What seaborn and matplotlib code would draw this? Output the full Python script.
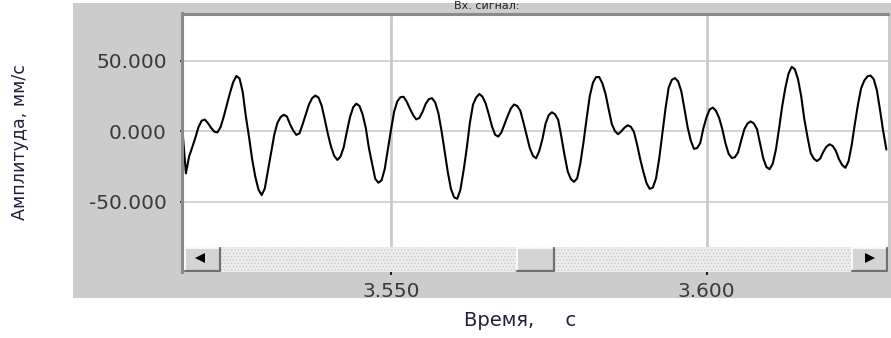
import numpy as np
import pandas as pd
import matplotlib
matplotlib.use("Agg")
import matplotlib.pyplot as plt
from matplotlib.patches import Rectangle, Polygon
from matplotlib.lines import Line2D
import seaborn as sns

# Vibration velocity record: one sample every 0.5 ms starting at 3.5170 s
t_start = 3.5170
t_step = 0.0005
amplitude = [
    -2, -30, -18, -11.5, -4.5, 3, 7.5, 8.3, 5.7, 2.3,
    -0.3, -0.8, 3, 10.5, 19, 27.5, 35, 39.3, 37.5, 28,
    10.5, -4, -20, -32.5, -41.5, -45.4, -40.7, -28, -15, -2.5,
    6, 10, 11.7, 10.5, 5, 0.5, -2.6, -1.5, 5, 12,
    19, 23.5, 25.4, 24, 18.4, 8.5, -2, -11, -17.5, -20.4,
    -18, -11.5, -0.5, 10, 17, 19.6, 18, 12, 2.5, -12,
    -23, -33.8, -36.6, -35, -27, -13, 1, 14, 21.3, 24.2,
    24.5, 21, 16, 11.5, 8.4, 9.5, 13.8, 19.5, 22.8, 23.5,
    20.5, 13, 0.5, -14, -29, -41, -47, -48, -41.5, -28,
    -12.3, 6, 19, 24, 26.5, 24.5, 19.8, 12, 3.5, -2.5,
    -3.8, -0.8, 5, 11, 16.2, 19, 18, 14.5, 6, -3,
    -12, -17.5, -19.3, -14, -5.5, 5.5, 11.5, 13.5, 12, 8,
    -4, -17, -28.5, -34, -36, -33.5, -23, -8, 9, 25,
    34.5, 38.5, 38.5, 34, 26.5, 15.5, 5, 0, -2.1, 0,
    2.5, 4.2, 3.2, -0.5, -9.5, -20, -29, -37, -41, -40,
    -33.5, -19.5, -2, 16, 31, 36.5, 37.8, 35.5, 28.5, 16,
    3, -6.5, -12.5, -12, -8.5, 2, 10, 15.5, 16.8, 14.5,
    9.5, 1.5, -8.5, -16, -19, -18.5, -15, -6.5, 1.5, 5.5,
    7, 5.5, 1.5, -9, -19.4, -25.5, -27, -23, -13, 2,
    18, 31, 41, 45.8, 44, 37, 25, 8.5, -4, -15.5,
    -19.5, -21.2, -19.5, -14.7, -11, -9.3, -10.5, -14, -20, -24,
    -26, -21.5, -10, 5, 19, 30.5, 36, 39, 39.6, 37,
    29, 15, 0, -13,
]

y_ticks = [-50, 0, 50]
y_tick_labels = ["-50.000", "0.000", "50.000"]
x_ticks = [3.550, 3.600]
x_tick_labels = ["3.550", "3.600"]
x_range = (3.51688, 3.62876)
y_range = (-82.3, 83.7)

title_text = "Вх. сигнал:"
y_label = "Амплитуда, мм/с"
x_label = "Время,     с"

sns.set_style("white")
plt.rcParams["font.family"] = ["DejaVu Sans"]
plt.rcParams["hatch.color"] = "#c4c4c4"
plt.rcParams["hatch.linewidth"] = 0.5

df = pd.DataFrame({
    "t": t_start + t_step * np.arange(len(amplitude)),
    "v": amplitude,
})

W, H = 891, 338


def px_rect(x0, y0, x1, y1):
    return [x0 / W, 1 - y1 / H, (x1 - x0) / W, (y1 - y0) / H]


fig = plt.figure(figsize=(W / 100, H / 100), dpi=100, facecolor="white")

# grey window panel behind the plot
fig.patches.append(Rectangle((72.7 / W, 1 - 298 / H), (W - 72.7) / W, 295 / H,
                             transform=fig.transFigure, facecolor="#cccccc",
                             edgecolor="none", zorder=-5))

ax = fig.add_axes(px_rect(182, 13.5, 888, 247))
sb = fig.add_axes(px_rect(182, 247, 888, 272), sharex=ax)

sns.lineplot(data=df, x="t", y="v", ax=ax, color="black", linewidth=1.5,
             estimator=None)

ax.set_facecolor("white")
ax.set_xlim(*x_range)
ax.set_ylim(*y_range)
ax.set_xlabel("")
ax.set_ylabel("")
ax.set_yticks(y_ticks, y_tick_labels)
ax.set_xticks(x_ticks)
ax.set_axisbelow(True)
ax.yaxis.grid(True, color="#c8c8c8", linewidth=1.1)
ax.xaxis.grid(True, color="#c8c8c8", linewidth=1.9)
ax.tick_params(axis="x", bottom=False, labelbottom=False)
ax.tick_params(axis="y", left=True, length=1.5, width=1.2, color="#222222",
               pad=9.5, labelsize=14.5, labelcolor="#3a3a3a")
for side in ("right", "bottom"):
    ax.spines[side].set_visible(False)
for side in ("left", "top"):
    ax.spines[side].set_color("#8a8a8a")
    ax.spines[side].set_linewidth(2.2)

# scroll bar strip under the plot
sb.set_ylim(0, 1)
sb.set_facecolor("#ececec")
sb.add_patch(Rectangle((0, 0), 1, 1, transform=sb.transAxes, facecolor="#ececec",
                       edgecolor="#c4c4c4", hatch=".....", linewidth=0, zorder=0))
sb.set_yticks([])
sb.set_xticks(x_ticks, x_tick_labels)
sb.tick_params(axis="x", bottom=True, length=2.5, width=1.5, color="#222222",
               pad=5, labelsize=14.5, labelcolor="#3a3a3a")
for side in ("right", "top", "bottom"):
    sb.spines[side].set_visible(False)
sb.spines["left"].set_color("#8a8a8a")
sb.spines["left"].set_linewidth(2.2)


def fx(x):
    return (x - 182) / 706


def fy(y):
    return (272 - y) / 25


def button(x0, x1, y0=248, y1=271):
    tr = sb.transAxes
    sb.add_patch(Rectangle((fx(x0), fy(y1)), fx(x1) - fx(x0), fy(y0) - fy(y1),
                           transform=tr, facecolor="#d4d4d4", edgecolor="none", zorder=3))
    sb.add_line(Line2D([fx(x0), fx(x0), fx(x1)], [fy(y1), fy(y0), fy(y0)],
                       transform=tr, color="white", lw=1.2, zorder=4))
    sb.add_line(Line2D([fx(x0), fx(x1), fx(x1)], [fy(y1), fy(y1), fy(y0)],
                       transform=tr, color="#707070", lw=1.6, zorder=4))


button(185, 220)
button(852, 887)
button(517, 554)
sb.add_patch(Polygon([(fx(195), fy(258)), (fx(205), fy(253)), (fx(205), fy(263))],
                     closed=True, transform=sb.transAxes, facecolor="black",
                     edgecolor="none", zorder=5))
sb.add_patch(Polygon([(fx(875), fy(258)), (fx(865), fy(253)), (fx(865), fy(263))],
                     closed=True, transform=sb.transAxes, facecolor="black",
                     edgecolor="none", zorder=5))

# window caption squeezed into the strip above the plot frame
fig.text(487 / W, 1 - 0.8 / H, title_text, ha="center", va="top",
         fontsize=8, color="#222222")
fig.text(20 / W, 1 - 142.5 / H, y_label, rotation=90, ha="center", va="center",
         fontsize=12.6, color="#202040")
fig.text(520 / W, 1 - 321 / H, x_label, ha="center", va="center",
         fontsize=14, color="#202040")

fig.savefig("out.png", dpi=100)
